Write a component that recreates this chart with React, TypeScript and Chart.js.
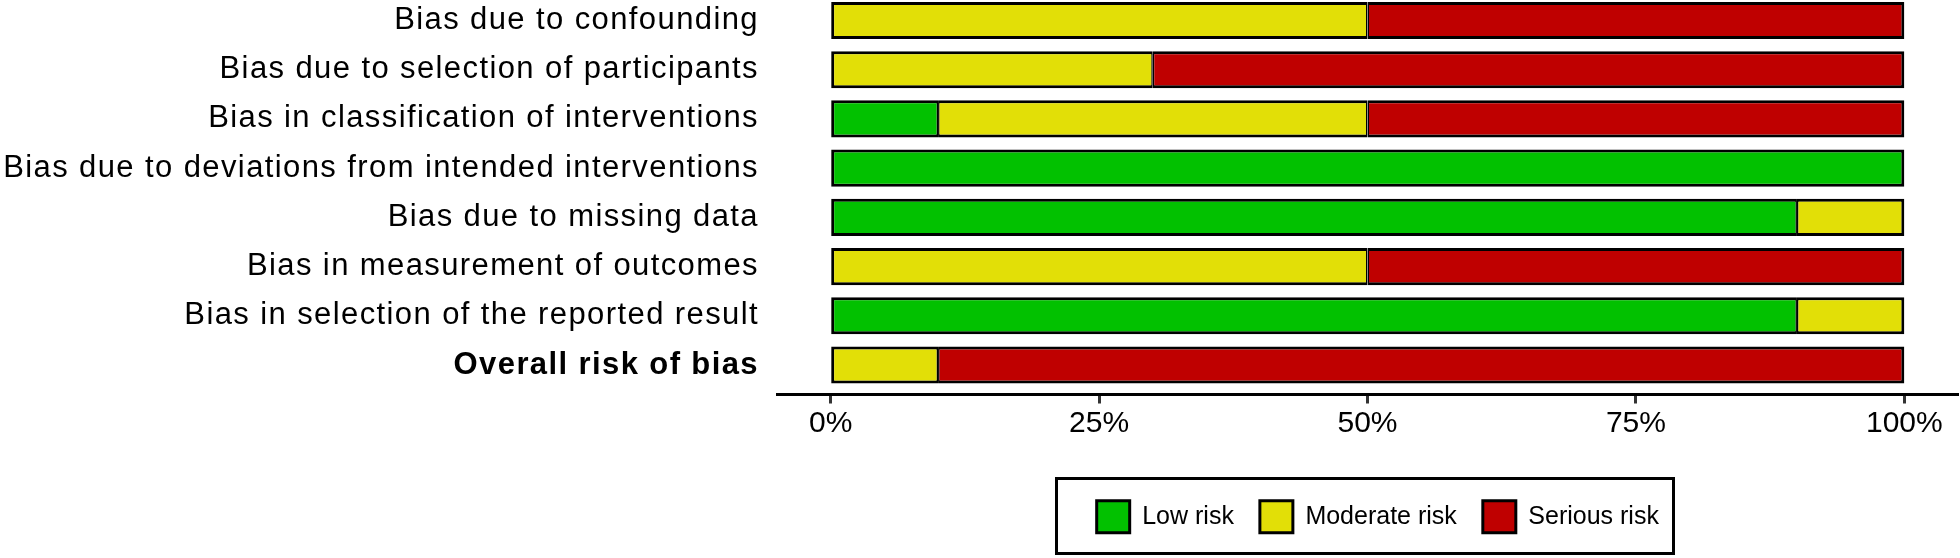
import React, { useEffect, useRef } from 'react';
import { Chart, registerables } from 'chart.js';

Chart.register(...registerables);

const FONT = 'Liberation Sans';

const categories = [
  'Bias due to confounding',
  'Bias due to selection of participants',
  'Bias in classification of interventions',
  'Bias due to deviations from intended interventions',
  'Bias due to missing data',
  'Bias in measurement of outcomes',
  'Bias in selection of the reported result',
  'Overall risk of bias',
];

const seriesNames = ['Low risk', 'Moderate risk', 'Serious risk'];
const lowRisk = [0, 0, 10, 100, 90, 0, 90, 0];
const moderateRisk = [50, 30, 40, 0, 10, 50, 10, 10];
const seriousRisk = [50, 70, 50, 0, 0, 50, 0, 90];
const seriesValues = [lowRisk, moderateRisk, seriousRisk];
const seriesColors = ['#02C100', '#E2DF07', '#BF0000'];
const xTickValues = [0, 25, 50, 75, 100];

const framePlugin = {
  id: 'robFrame',
  afterLayout(chart: any) {
    const lg = chart.legend;
    if (lg) {
      lg.left += 10.3;
      lg.right += 10.3;
    }
  },
  afterDatasetsDraw(chart: any) {
    (chart.ctx as any).letterSpacing = '1.4px';
  },
  afterDraw(chart: any) {
    const ctx = chart.ctx;
    (ctx as any).letterSpacing = '0px';
    const lg = chart.legend;
    if (!lg) return;
    const cx = (lg.left + lg.right) / 2 - 12.8;
    const cy = lg.top + 26 + 16 - 0.8;
    ctx.save();
    ctx.lineWidth = 3;
    ctx.strokeStyle = '#000000';
    ctx.strokeRect(cx - 308.5, cy - 37.5, 617, 75);
    ctx.restore();
  },
};

export default function App() {
  const ref = useRef<HTMLCanvasElement | null>(null);

  useEffect(() => {
    if (!ref.current) return;
    Chart.defaults.font.family = FONT;
    const chart = new Chart(ref.current, {
      type: 'bar',
      data: {
        datasets: seriesNames.map((name, d) => ({
          label: name,
          data: seriesValues[d].map((v, i) => ({ x: v, y: i + 1 })),
          backgroundColor: seriesColors[d],
          borderColor: '#000000',
          borderSkipped: false,
          borderWidth: (c: any) => {
            const i = c.dataIndex;
            const ds = c.datasetIndex;
            if (i === undefined || ds === undefined) return 3;
            const before = seriesValues.slice(0, ds).some((s) => s[i] > 0);
            const after = seriesValues.slice(ds + 1).some((s) => s[i] > 0);
            return { top: 3, bottom: 3, left: before ? 1.5 : 3, right: after ? 1.5 : 3 };
          },
          barPercentage: 0.755,
          categoryPercentage: 1,
        })),
      } as any,
      options: {
        indexAxis: 'y',
        responsive: false,
        animation: false,
        events: [],
        layout: { padding: { left: 0, right: 2, top: 0, bottom: 15.2 } },
        plugins: {
          tooltip: { enabled: false },
          legend: {
            position: 'bottom',
            fullSize: false,
            labels: {
              boxWidth: 33,
              boxHeight: 32,
              padding: 26,
              color: '#000000',
              font: { family: FONT, size: 25 },
              generateLabels: () =>
                seriesNames.map((t, i) => ({
                  text: t,
                  fillStyle: seriesColors[i],
                  strokeStyle: '#000000',
                  lineWidth: 3,
                  hidden: false,
                  datasetIndex: i,
                  fontColor: '#000000',
                })),
            },
          },
        },
        scales: {
          x: {
            type: 'linear',
            position: 'bottom',
            min: -5,
            max: 105,
            stacked: true,
            afterBuildTicks: (s: any) => {
              s.ticks = xTickValues.map((v) => ({ value: v }));
            },
            afterFit: (s: any) => {
              s.height = 80.3;
            },
            ticks: {
              callback: (v: any) => `${v}%`,
              padding: 2,
              color: '#000000',
              autoSkip: false,
              maxRotation: 0,
              font: { family: FONT, size: 30 },
            },
            grid: {
              drawOnChartArea: false,
              drawTicks: true,
              tickLength: 9,
              tickWidth: 3,
              tickColor: '#333333',
            },
            border: { display: true, color: '#000000', width: 3 },
          },
          y: {
            type: 'linear',
            min: 0.4,
            max: 8.6,
            reverse: true,
            stacked: true,
            offset: false,
            afterBuildTicks: (s: any) => {
              s.ticks = categories.map((_, i) => ({ value: i + 1 }));
            },
            afterFit: (s: any) => {
              s.width = 777;
              s.paddingTop = 0;
              s.paddingBottom = 0;
            },
            ticks: {
              z: 1,
              padding: 18,
              color: '#000000',
              autoSkip: false,
              callback: (_v: any, i: number) => categories[i],
              font: (c: any) => ({
                family: FONT,
                size: 31,
                weight: c.index === categories.length - 1 ? 'bold' : 'normal',
              }),
            },
            grid: { display: false, drawTicks: false, offset: false },
            border: { display: false },
          },
        },
      } as any,
      plugins: [framePlugin],
    });
    return () => chart.destroy();
  }, []);

  return (
    <div style={{ position: 'absolute', left: 0, top: -9, width: 1960, height: 567 }}>
      <canvas ref={ref} width={1960} height={567} style={{ display: 'block', width: 1960, height: 567 }} />
    </div>
  );
}
